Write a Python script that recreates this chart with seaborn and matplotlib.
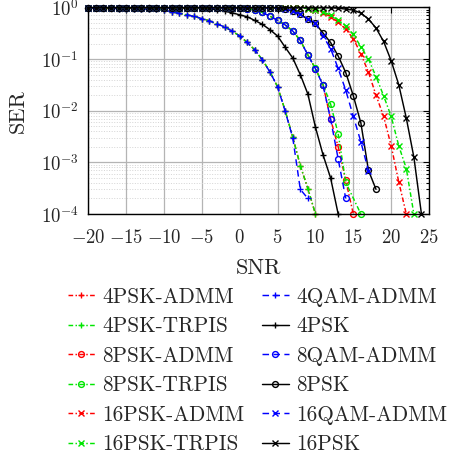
import numpy as np
import pandas as pd
import matplotlib
matplotlib.use("Agg")
import matplotlib.pyplot as plt
import seaborn as sns
from matplotlib.ticker import FixedLocator, FuncFormatter, LogLocator, NullFormatter

# SNR grid (dB); every series starts at -20 dB. None = no symbol errors counted.
snr = list(range(-20, 26))

ser_4psk_admm = [0.97, 0.97, 0.96, 0.96, 0.95, 0.95, 0.94, 0.93, 0.93, 0.92,
                 0.88, 0.83, 0.77, 0.72, 0.67, 0.61, 0.55, 0.48, 0.42, 0.35,
                 0.28, 0.21, 0.15, 0.096, 0.056, 0.029, 0.0100, 0.0031, 8.6e-4, 3.1e-4,
                 1.0e-4]
ser_4psk_trpis = [0.97, 0.97, 0.96, 0.96, 0.95, 0.95, 0.94, 0.93, 0.93, 0.92,
                  0.88, 0.83, 0.77, 0.72, 0.67, 0.61, 0.55, 0.48, 0.42, 0.35,
                  0.28, 0.21, 0.15, 0.097, 0.057, 0.029, 0.0101, 0.0031, 8.7e-4, 3.1e-4,
                  1.0e-4]
ser_4qam_admm = [0.97, 0.97, 0.96, 0.96, 0.95, 0.95, 0.94, 0.93, 0.93, 0.92,
                 0.88, 0.83, 0.77, 0.72, 0.67, 0.61, 0.55, 0.48, 0.42, 0.35,
                 0.28, 0.21, 0.15, 0.096, 0.056, 0.029, 0.0098, 0.0030, 3.0e-4, 2.0e-4]
ser_4psk = [0.99, 0.99, 0.99, 0.99, 0.99, 0.99, 0.99, 0.99, 0.99, 0.99,
            0.99, 0.99, 0.99, 0.99, 0.99, 0.97, 0.94, 0.90, 0.85, 0.79,
            0.72, 0.66, 0.56, 0.47, 0.37, 0.28, 0.17, 0.105, 0.050, 0.021,
            4.8e-3, 1.4e-3, 5.0e-4, 1.0e-4]

ser_8psk_admm = [0.99] * 20 + [0.98, 0.95, 0.89, 0.80, 0.68, 0.56, 0.46, 0.35, 0.23, 0.12,
                               0.065, 0.032, 6.9e-3, 2.0e-3, 4.5e-4, 1.0e-4]
ser_8psk_trpis = [0.99] * 20 + [0.98, 0.95, 0.89, 0.80, 0.68, 0.56, 0.46, 0.35, 0.23, 0.12,
                                0.066, 0.032, 0.0135, 3.6e-3, 4.1e-4, None, 1.0e-4]
ser_8qam_admm = [0.99] * 20 + [0.98, 0.95, 0.89, 0.80, 0.68, 0.56, 0.46, 0.35, 0.23, 0.12,
                               0.065, 0.031, 6.9e-3, 1.17e-3, 2.0e-4]
ser_8psk = [0.99] * 25 + [0.97, 0.93, 0.85, 0.74, 0.59, 0.49, 0.32, 0.21, 0.115, 0.055,
                          0.0195, 5.8e-3, 7.0e-4, 3.0e-4]

ser_16psk_admm = [0.99] * 28 + [0.98, 0.955, 0.89, 0.79, 0.66, 0.52, 0.38, 0.25, 0.126, 0.056,
                                0.020, 7.8e-3, 2.1e-3, 4.2e-4, 1.0e-4]
ser_16psk_trpis = [0.99] * 28 + [0.98, 0.955, 0.91, 0.83, 0.71, 0.575, 0.44, 0.30, 0.174, 0.10,
                                 0.046, 0.0195, 7.8e-3, 2.1e-3, 7.6e-4, 1.0e-4]
ser_16qam_admm = [0.99] * 25 + [0.97, 0.93, 0.85, 0.74, 0.59, 0.49, 0.28, 0.16, 0.066, 0.025,
                                7.8e-3, 2.5e-3, 6.9e-4]
ser_16psk = [0.99] * 33 + [0.97, 0.93, 0.89, 0.78, 0.60, 0.40, 0.22, 0.093, 0.032, 7.2e-3,
                           1.26e-3, 1.0e-4]

x_ticks = [-20, -15, -10, -5, 0, 5, 10, 15, 20, 25]
y_ticks = [1e0, 1e-1, 1e-2, 1e-3, 1e-4]

RED, GREEN, BLUE, BLACK = "#ff0000", "#00e600", "#0000ff", "#000000"
LS_ADMM = (0, (3.2, 1.6, 1.0, 1.6))
LS_TRPIS = (0, (3.2, 1.6, 1.0, 1.6))
LS_QAM = (0, (4.5, 3.0))
LS_REF = "-"

series = [
    # name, values, color, linestyle, marker
    ("4PSK-ADMM", ser_4psk_admm, RED, LS_ADMM, "+"),
    ("4PSK-TRPIS", ser_4psk_trpis, GREEN, LS_TRPIS, "+"),
    ("4QAM-ADMM", ser_4qam_admm, BLUE, LS_QAM, "+"),
    ("4PSK", ser_4psk, BLACK, LS_REF, "+"),
    ("8PSK-ADMM", ser_8psk_admm, RED, LS_ADMM, "o"),
    ("8PSK-TRPIS", ser_8psk_trpis, GREEN, LS_TRPIS, "o"),
    ("8QAM-ADMM", ser_8qam_admm, BLUE, LS_QAM, "o"),
    ("8PSK", ser_8psk, BLACK, LS_REF, "o"),
    ("16PSK-ADMM", ser_16psk_admm, RED, LS_ADMM, "x"),
    ("16PSK-TRPIS", ser_16psk_trpis, GREEN, LS_TRPIS, "x"),
    ("16QAM-ADMM", ser_16qam_admm, BLUE, LS_QAM, "x"),
    ("16PSK", ser_16psk, BLACK, LS_REF, "x"),
]

legend_left = ["4PSK-ADMM", "4PSK-TRPIS", "8PSK-ADMM", "8PSK-TRPIS", "16PSK-ADMM", "16PSK-TRPIS"]
legend_right = ["4QAM-ADMM", "4PSK", "8QAM-ADMM", "8PSK", "16QAM-ADMM", "16PSK"]

sns.set_style("white")
plt.rcParams["font.family"] = ["cmr10", "DejaVu Serif"]
plt.rcParams["mathtext.fontset"] = "cm"
plt.rcParams["axes.formatter.use_mathtext"] = True

fig = plt.figure(figsize=(4.49, 4.57), dpi=100)
ax = fig.add_axes([0.1967, 0.5317, 0.7588, 0.4519])

handles = {}
for name, vals, color, ls, mk in series:
    df = pd.DataFrame({"SNR": snr[:len(vals)], "SER": vals}).dropna()
    sns.lineplot(data=df, x="SNR", y="SER", ax=ax, color=color, linestyle=ls,
                 marker=mk, markersize=4.2,
                 markerfacecolor="none", markeredgecolor=color, markeredgewidth=1.0,
                 linewidth=1.05, sort=False, estimator=None, label=name, clip_on=False)
    handles[name] = ax.get_lines()[-1]

ax.set_yscale("log")
ax.set_xlim(-20, 25)
ax.set_ylim(1e-4, 1)

ax.xaxis.set_major_locator(FixedLocator(x_ticks))
ax.xaxis.set_major_formatter(FuncFormatter(lambda v, p: f"${v:g}$"))
ax.yaxis.set_major_locator(FixedLocator(y_ticks))
ax.yaxis.set_major_formatter(FuncFormatter(lambda v, p: f"$10^{{{int(round(np.log10(v)))}}}$"))
ax.yaxis.set_minor_locator(LogLocator(base=10, subs=np.arange(2, 10)))
ax.yaxis.set_minor_formatter(NullFormatter())

ax.grid(which="major", color="#b4b4b4", linewidth=0.9)
ax.grid(which="minor", axis="y", color="#d4d4d4", linestyle=":", linewidth=0.7)
ax.set_axisbelow(True)

ax.tick_params(which="both", direction="in", top=True, right=True, labelsize=13.5,
               color="black", width=0.8)
ax.tick_params(which="major", length=4)
ax.tick_params(axis="x", which="major", pad=11)
ax.tick_params(axis="y", which="major", pad=7)
ax.tick_params(which="minor", length=2)
for sp in ax.spines.values():
    sp.set_color("black")
    sp.set_linewidth(1.0)

ax.set_xlabel("SNR", fontsize=16, labelpad=8)
ax.set_ylabel("SER", fontsize=16, labelpad=9)

ax.get_legend().remove()
legend_kw = dict(loc="upper left", frameon=False, fontsize=15.3, borderpad=0,
                 borderaxespad=0, handlelength=1.25, handletextpad=0.35,
                 labelspacing=0.47, numpoints=1)
fig.legend([handles[n] for n in legend_left], legend_left,
           bbox_to_anchor=(68 / 449, 1 - 287 / 457), **legend_kw)
fig.legend([handles[n] for n in legend_right], legend_right,
           bbox_to_anchor=(262 / 449, 1 - 287 / 457), **legend_kw)

fig.savefig("out.png", dpi=100)
